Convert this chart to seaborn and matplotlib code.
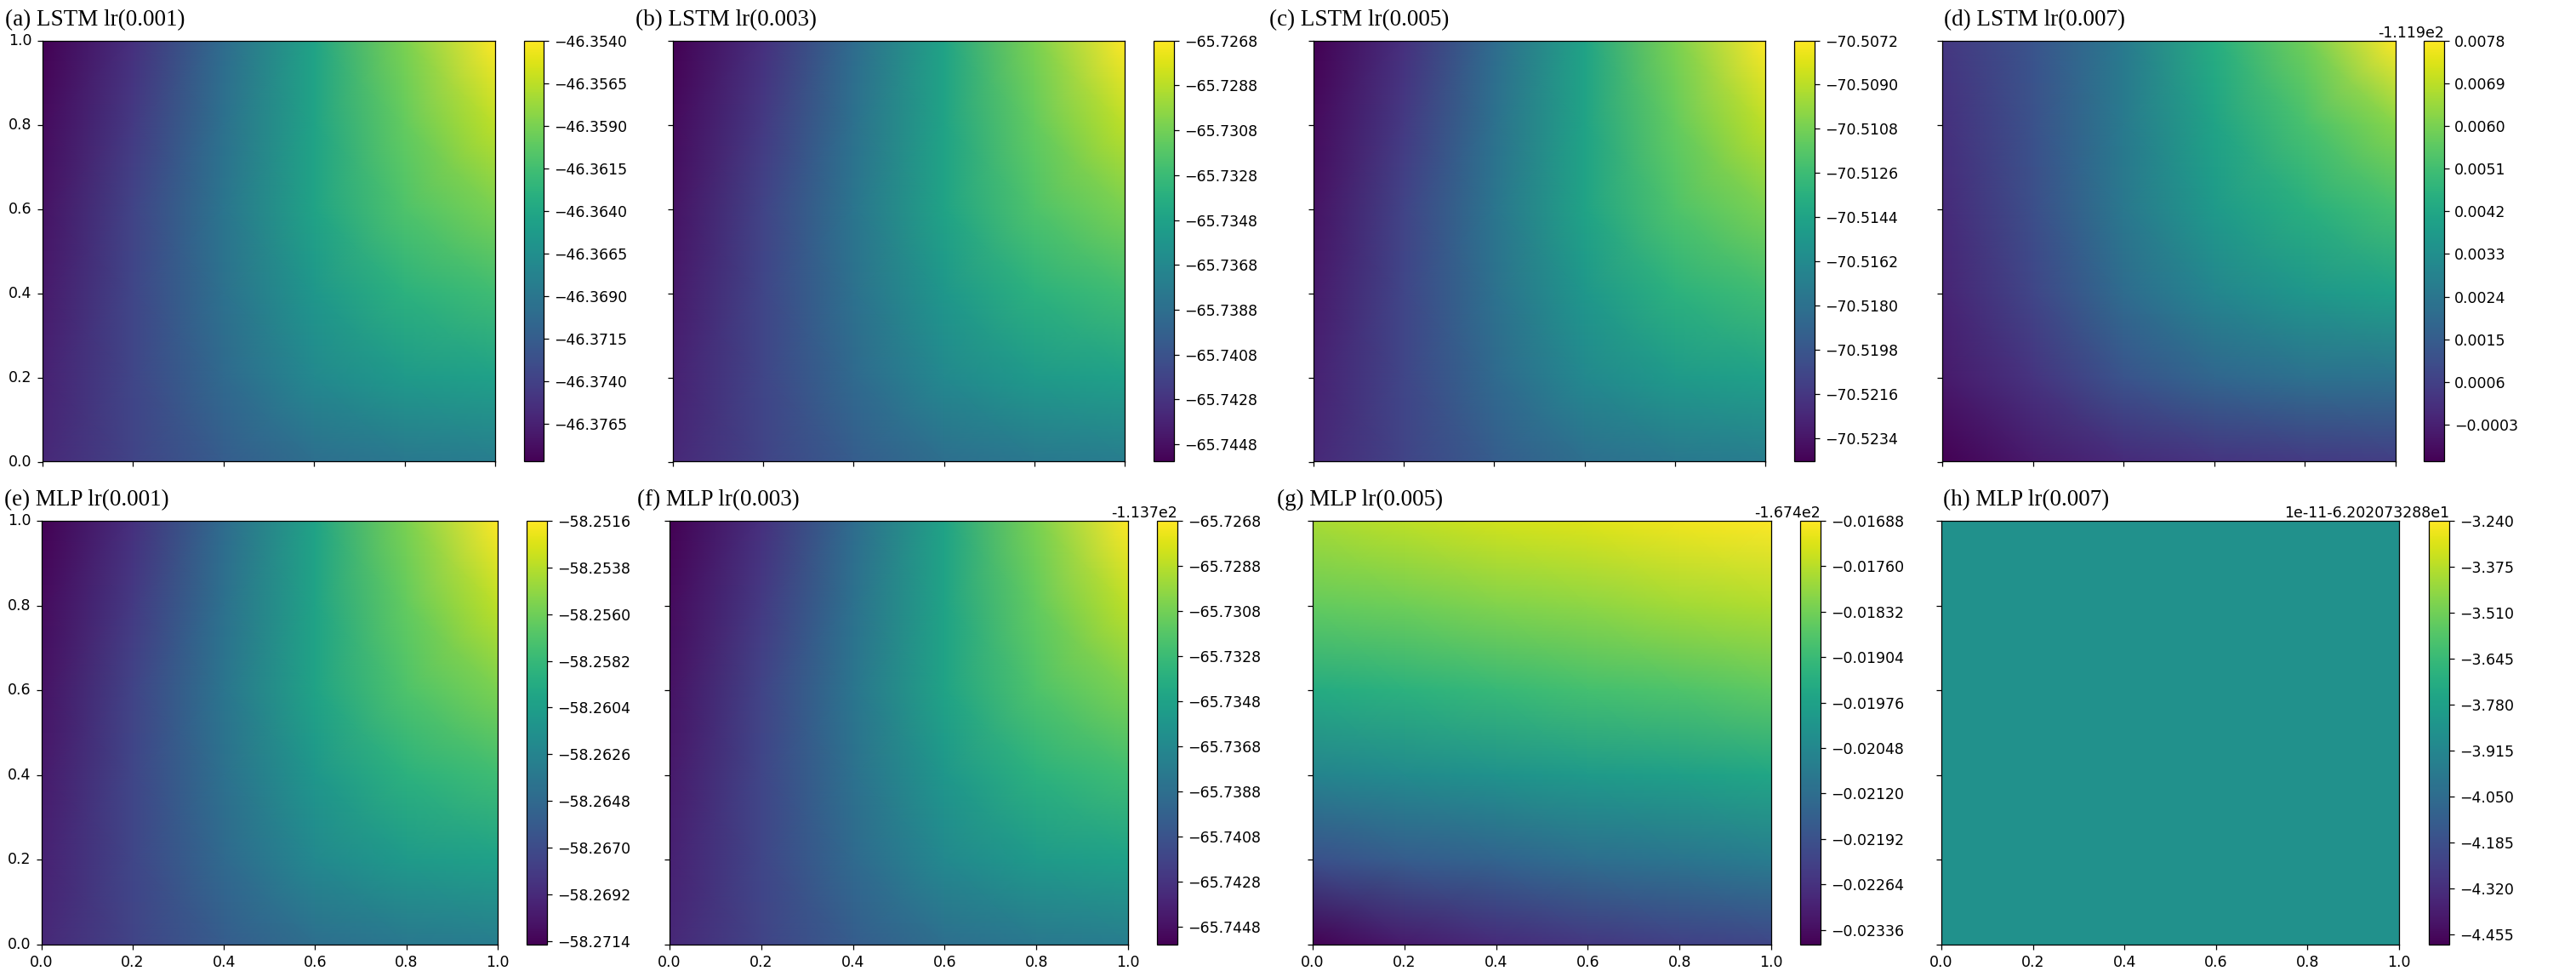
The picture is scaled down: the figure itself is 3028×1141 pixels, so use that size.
import numpy as np
import matplotlib
matplotlib.use("Agg")
import matplotlib.pyplot as plt
import seaborn as sns

titles = [
    "(a) LSTM lr(0.001)", "(b) LSTM lr(0.003)", "(c) LSTM lr(0.005)", "(d) LSTM lr(0.007)",
    "(e) MLP lr(0.001)", "(f) MLP lr(0.003)", "(g) MLP lr(0.005)", "(h) MLP lr(0.007)",
]
axis_labels = ["0.0", "0.2", "0.4", "0.6", "0.8", "1.0"]

# colour position (0 = bottom of its colorbar, 1 = top)
# rows run from y=1.0 (top) down to y=0.0, columns from x=0.0 to x=1.0
corner_field = [
    [0.00, 0.14, 0.35, 0.58, 0.80, 1.00],
    [0.03, 0.17, 0.37, 0.58, 0.76, 0.90],
    [0.05, 0.20, 0.39, 0.58, 0.72, 0.80],
    [0.07, 0.21, 0.37, 0.53, 0.64, 0.69],
    [0.09, 0.21, 0.34, 0.47, 0.54, 0.57],
    [0.11, 0.20, 0.29, 0.36, 0.40, 0.42],
]
lstm_007_field = [
    [0.16, 0.26, 0.41, 0.62, 0.78, 1.00],
    [0.14, 0.25, 0.41, 0.58, 0.71, 0.82],
    [0.12, 0.24, 0.40, 0.54, 0.63, 0.70],
    [0.10, 0.21, 0.35, 0.46, 0.53, 0.57],
    [0.07, 0.15, 0.26, 0.33, 0.37, 0.38],
    [0.00, 0.07, 0.12, 0.15, 0.17, 0.18],
]
mlp_005_field = [
    [0.87, 0.90, 0.93, 0.95, 0.98, 1.00],
    [0.76, 0.78, 0.81, 0.83, 0.86, 0.88],
    [0.61, 0.64, 0.67, 0.70, 0.72, 0.75],
    [0.45, 0.48, 0.51, 0.54, 0.56, 0.59],
    [0.25, 0.29, 0.32, 0.36, 0.39, 0.42],
    [0.00, 0.07, 0.12, 0.16, 0.19, 0.21],
]
mlp_007_level = 0.5  # flat map, middle of its colorbar

fields = [corner_field, corner_field, corner_field, lstm_007_field,
          corner_field, corner_field, mlp_005_field,
          np.full((6, 6), mlp_007_level)]

# colorbar ranges (bottom, top) in the units printed on each colorbar
cbar_ranges = [
    (-46.37871, -46.3540), (-65.74557, -65.7268), (-70.52437, -70.5072), (-0.00108, 0.0078),
    (-58.27158, -58.2516), (-65.74559, -65.7268), (-0.023595, -0.01688), (-4.485, -3.240),
]
cbar_ticks = [
    [-46.3540, -46.3565, -46.3590, -46.3615, -46.3640, -46.3665, -46.3690, -46.3715, -46.3740, -46.3765],
    [-65.7268, -65.7288, -65.7308, -65.7328, -65.7348, -65.7368, -65.7388, -65.7408, -65.7428, -65.7448],
    [-70.5072, -70.5090, -70.5108, -70.5126, -70.5144, -70.5162, -70.5180, -70.5198, -70.5216, -70.5234],
    [0.0078, 0.0069, 0.0060, 0.0051, 0.0042, 0.0033, 0.0024, 0.0015, 0.0006, -0.0003],
    [-58.2516, -58.2538, -58.2560, -58.2582, -58.2604, -58.2626, -58.2648, -58.2670, -58.2692, -58.2714],
    [-65.7268, -65.7288, -65.7308, -65.7328, -65.7348, -65.7368, -65.7388, -65.7408, -65.7428, -65.7448],
    [-0.01688, -0.01760, -0.01832, -0.01904, -0.01976, -0.02048, -0.02120, -0.02192, -0.02264, -0.02336],
    [-3.240, -3.375, -3.510, -3.645, -3.780, -3.915, -4.050, -4.185, -4.320, -4.455],
]
cbar_decimals = [4, 4, 4, 4, 4, 4, 5, 3]
cbar_offsets = ["", "", "", "-1.119e2", "", "-1.137e2", "-1.674e2", "1e-11-6.202073288e1"]

# layout in pixels of the 3028x1141 canvas
W, H = 3028, 1141
row_edges = [(47.6, 542.5), (612, 1110)]
title_baseline = [30, 594]
title_x = [6, 747, 1492, 2285, 5, 749, 1501, 2284]
col_edges = [
    (49.5, 582, 615.5, 639), (791, 1322, 1356, 1380), (1544, 2075, 2109, 2133), (2283, 2816, 2849, 2873),
    (48.5, 585, 619, 643), (787, 1326, 1360, 1384), (1543, 2082, 2116, 2140), (2282, 2820, 2855, 2879),
]


def box(x0, x1, y0, y1):
    return [x0 / W, 1 - y1 / H, (x1 - x0) / W, (y1 - y0) / H]


sns.set_style("ticks", {"axes.edgecolor": "black", "xtick.color": "black",
                        "ytick.color": "black", "text.color": "black"})
plt.rcParams["font.family"] = ["DejaVu Sans"]
plt.rcParams["axes.linewidth"] = 0.9

fig = plt.figure(figsize=(W / 100, H / 100), dpi=100)

for i in range(8):
    row, col = divmod(i, 4)
    top, bottom = row_edges[row]
    left, right, cleft, cright = col_edges[i]
    ax = fig.add_axes(box(left, right, top, bottom))
    cax = fig.add_axes(box(cleft, cright, top, bottom))

    lo, hi = cbar_ranges[i]
    data = lo + np.asarray(fields[i], dtype=float) * (hi - lo)
    sns.heatmap(data, ax=ax, cbar_ax=cax, cmap="viridis", vmin=lo, vmax=hi,
                shading="gouraud", cbar_kws={"ticks": cbar_ticks[i]})

    n = data.shape[0] - 1
    ax.set_xlim(0, n)
    ax.set_ylim(n, 0)
    ax.set_xticks(np.arange(n + 1))
    ax.set_yticks(np.arange(n + 1))
    ax.set_xticklabels(axis_labels if row == 1 else [], rotation=0)
    ax.set_yticklabels(axis_labels[::-1] if col == 0 else [], rotation=0)
    for s in ax.spines.values():
        s.set_visible(True)
        s.set_color("black")
    ax.tick_params(length=4.5, width=0.9, labelsize=12.5, pad=4)

    cb = ax.collections[0].colorbar
    dec = cbar_decimals[i]
    cb.set_ticks(cbar_ticks[i],
                 labels=[f"{v:.{dec}f}".replace("-", "\u2212") for v in cbar_ticks[i]])
    cb.outline.set_linewidth(0.9)
    cb.outline.set_edgecolor("black")
    cax.tick_params(length=4.5, width=0.9, labelsize=12.5, pad=4)
    if cbar_offsets[i]:
        cax.text(1.0, 1.0, cbar_offsets[i], transform=cax.transAxes,
                 ha="right", va="bottom", fontsize=12.5)

    fig.text(title_x[i] / W, 1 - title_baseline[row] / H, titles[i],
             fontfamily="Liberation Serif", fontsize=19.5, va="baseline", ha="left")

fig.savefig("out.png", dpi=100)
